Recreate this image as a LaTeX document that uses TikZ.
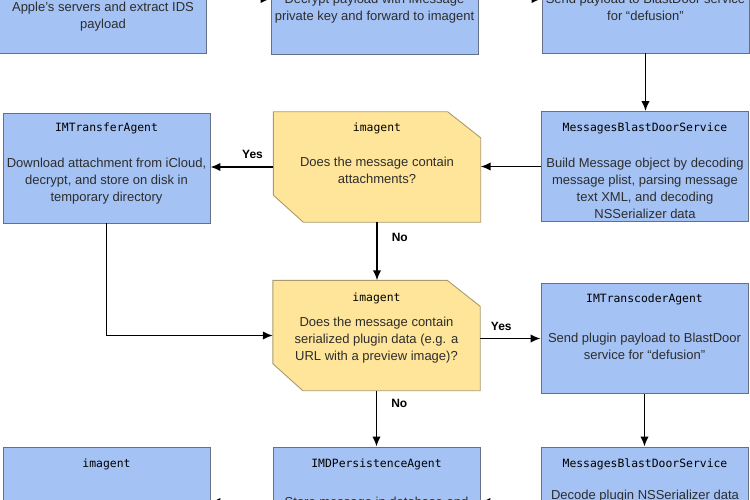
\documentclass[tikz,border=0pt]{standalone}
\usepackage{fontspec}
\setmainfont{Liberation Sans}
\setmonofont{DejaVu Sans Mono}
\usetikzlibrary{arrows.meta,positioning,calc}
\definecolor{boxblue}{RGB}{164,194,244}
\definecolor{boxedge}{RGB}{100,112,135}
\definecolor{askyellow}{RGB}{255,229,153}
\definecolor{askedge}{RGB}{170,155,110}
\definecolor{txtgray}{RGB}{45,45,45}

\begin{document}
\begin{tikzpicture}[x=1pt,y=-1pt,
  box/.style={draw=boxedge,fill=boxblue,line width=0.9pt,minimum width=207pt,minimum height=110pt,inner sep=0pt},
  ask/.style={minimum width=207pt,minimum height=110pt,inner sep=0pt},
  askline/.style={draw=askedge,fill=askyellow,line width=0.9pt},
  hdr/.style={font=\fontsize{11.4}{14}\ttfamily,text=black,inner sep=0pt,anchor=base},
  txt/.style={font=\fontsize{13}{17}\selectfont,text=txtgray,align=center,inner sep=0pt,anchor=north},
  lbl/.style={font=\fontsize{12}{14}\selectfont\bfseries,inner sep=0pt},
  flow/.style={line width=1.6pt,arrows=-{Latex[length=10pt,width=8.5pt]}}]
\useasboundingbox (0,0) rectangle (750,500);
\clip (0,0) rectangle (750,500);

% top row
\node[box] (ids) at (103,-2) {};
\node[box] (decr) at (374.5,-1) {};
\node[box] (bd1) at (645.5,-2) {};
\node[txt] (ids-t) at (103,1.5) {Apple’s servers and extract IDS\\payload};
\node[txt] (decr-t) at (374.5,-6) {Decrypt payload with iMessage\\private key and forward to imagent};
\node[txt] (bd1-t) at (645.5,-6.5) {Send payload to BlastDoor service\\for “defusion”};

% second row
\node[box] (xfer) at (106.5,168) {};
\node[ask] (att) at (377,167) {};
\draw[askline] (att.north west) -- ([xshift=-33pt]att.north east) -- ([yshift=-26pt]att.north east)
  -- (att.south east) -- ([xshift=30pt]att.south west) -- ([yshift=27pt]att.south west) -- cycle;
\node[box] (mbd1) at (645,166.5) {};
\node[hdr] (xfer-h) at (106.5,132) {IMTransferAgent};
\node[txt] (xfer-t) at (106.5,157.5) {Download attachment from iCloud,\\decrypt, and store on disk in\\temporary directory};
\node[hdr] (att-h) at (377,132) {imagent};
\node[txt] (att-t) at (377,156.5) {Does the message contain\\attachments?};
\node[hdr] (mbd1-h) at (645,132) {MessagesBlastDoorService};
\node[txt] (mbd1-t) at (645,157.5) {Build Message object by decoding\\message plist, parsing message\\text XML, and decoding\\NSSerializer data};

% third row
\node[ask] (plug) at (376.5,335.5) {};
\draw[askline] (plug.north west) -- ([xshift=-33pt]plug.north east) -- ([yshift=-26pt]plug.north east)
  -- (plug.south east) -- ([xshift=30pt]plug.south west) -- ([yshift=27pt]plug.south west) -- cycle;
\node[box] (trans) at (644.5,338.5) {};
\node[hdr] (plug-h) at (376.5,301) {imagent};
\node[txt] (plug-t) at (376.5,316.5) {Does the message contain\\serialized plugin data (e.g. a\\URL with a preview image)?};
\node[hdr] (trans-h) at (644.5,302) {IMTranscoderAgent};
\node[txt] (trans-t) at (644.5,332.5) {Send plugin payload to BlastDoor\\service for “defusion”};

% bottom row
\node[box] (img) at (106.5,502) {};
\node[box] (persist) at (376.5,502) {};
\node[box] (mbd2) at (645,502) {};
\node[hdr] (img-h) at (106.5,467) {imagent};
\node[hdr] (persist-h) at (376.5,467) {IMDPersistenceAgent};
\node[txt] (persist-t) at (376.5,496.5) {Store message in database and};
\node[hdr] (mbd2-h) at (645,467) {MessagesBlastDoorService};
\node[txt] (mbd2-t) at (645,489.5) {Decode plugin NSSerializer data};

\draw[flow] (decr.west -| ids.east) -- (decr.west);
\draw[flow] (decr.east) -- (decr.east -| bd1.west);
\draw[flow] (bd1.south) -- (bd1.south |- mbd1.north);
\draw[flow] (mbd1.west) -- (mbd1.west -| att.east);
\draw[flow] (att.west) -- node[lbl,pos=0.33,above=8pt] (yes1) {Yes} (att.west -| xfer.east);
\draw[flow] (att.south) -- node[lbl,pos=0.26,right=14pt] (no1) {No} (att.south |- plug.north);
\draw[flow] (xfer.south) |- (plug.west);
\draw[flow] (trans.west -| plug.east) -- node[lbl,pos=0.35,above=7pt] (yes2) {Yes} (trans.west);
\draw[flow] (plug.south) -- node[lbl,pos=0.23,right=14pt] (no2) {No} (persist.north);
\draw[flow] (trans.south) -- (trans.south |- mbd2.north);
\draw[flow] (mbd2.west) -- (mbd2.west -| persist.east);
\draw[flow] (persist.west) -- (persist.west -| img.east);
\end{tikzpicture}
\end{document}
